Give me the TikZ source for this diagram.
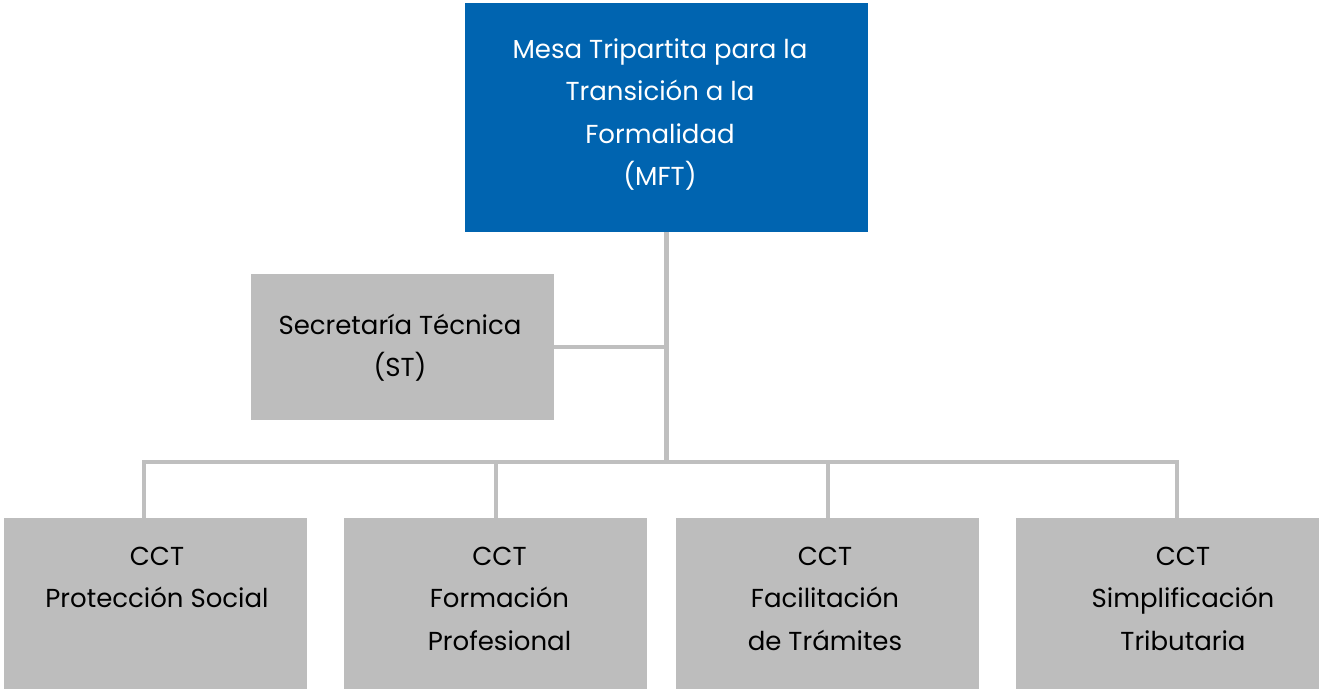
\documentclass[tikz,border=0pt]{standalone}
\usepackage{fontspec}
\setmainfont[Ligatures={NoCommon}]{Poppins}
\definecolor{mftblue}{HTML}{0064B0}
\definecolor{boxgray}{HTML}{BDBDBD}
\definecolor{linegray}{HTML}{BFBFBF}
\newcommand{\firstline}{\rule{0pt}{28pt}}
\begin{document}
\begin{tikzpicture}[x=1pt,y=-1pt,
  boxbase/.style={draw=none, inner sep=0pt, outer sep=0pt, anchor=north west},
  graybox/.style={boxbase, fill=boxgray, minimum width=303pt},
  bluebox/.style={boxbase, fill=mftblue, minimum width=403pt, minimum height=229pt},
  label/.style={inner sep=0pt, outer sep=0pt, anchor=north, align=center,
    font=\fontsize{26}{42.5}\selectfont},
  connector/.style={draw=linegray, line width=4.5pt, line join=miter, line cap=butt}]
\useasboundingbox (0,0) rectangle (1319,689);

% boxes
\node[bluebox] (mft) at (465,3) {};
\node[graybox, minimum height=146pt] (st) at (251,274) {};
\node[graybox, minimum height=171pt] (b1) at (4,518) {};
\node[graybox, minimum height=171pt] (b2) at (344,518) {};
\node[graybox, minimum height=171pt] (b3) at (676,518) {};
\node[graybox, minimum height=171pt] (b4) at (1016,518) {};

% connector points
\coordinate (bus) at (666.5,462);
\coordinate (d1) at (144,462);
\coordinate (d2) at (496,462);
\coordinate (d3) at (828,462);
\coordinate (d4) at (1177,462);

% connectors
\draw[connector] (mft.south) -- (bus);
\draw[connector] (st.east) -- (st.east -| mft.south);
\draw[connector] (d1 |- b1.north) -- (d1) -- (d4) -- (d4 |- b4.north);
\draw[connector] (d2) -- (d2 |- b2.north);
\draw[connector] (d3) -- (d3 |- b3.north);

% box fills over connector ends
\fill[mftblue] (mft.north west) rectangle (mft.south east);
\fill[boxgray] (st.north west) rectangle (st.south east);
\fill[boxgray] (b1.north west) rectangle (b1.south east);
\fill[boxgray] (b2.north west) rectangle (b2.south east);
\fill[boxgray] (b3.north west) rectangle (b3.south east);
\fill[boxgray] (b4.north west) rectangle (b4.south east);

% texts (first baselines at 58.3, 334.3, 565)
\node[label, text=white] (mftt) at (660,30.3) {\firstline Mesa Tripartita para la\\Transición a la\\Formalidad\\(MFT)};
\node[label] (stt) at (400,306.3) {\firstline Secretaría Técnica\\(ST)};
\node[label] (b1t) at (157,537) {\firstline CCT\\Protección Social};
\node[label] (b2t) at (499.5,537) {\firstline CCT\\Formación\\Profesional};
\node[label] (b3t) at (825,537) {\firstline CCT\\Facilitación\\de Trámites};
\node[label] (b4t) at (1183,537) {\firstline CCT\\Simplificación\\Tributaria};
\end{tikzpicture}
\end{document}
